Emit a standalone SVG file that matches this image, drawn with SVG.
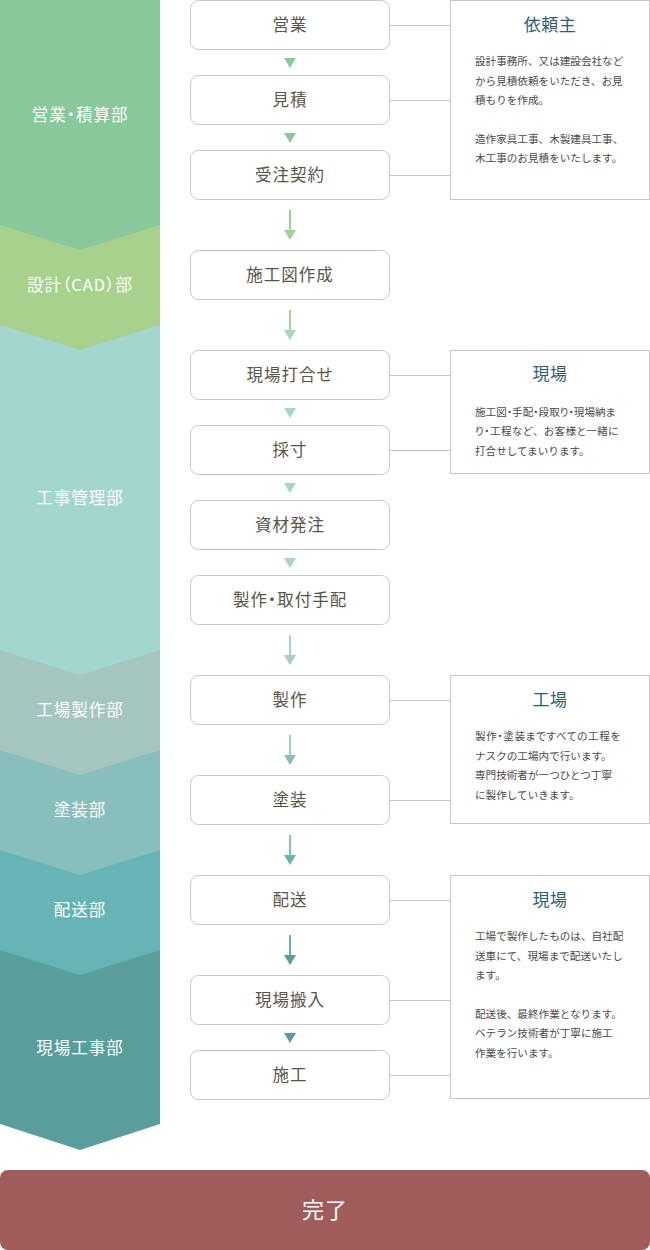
<svg xmlns="http://www.w3.org/2000/svg" width="650" height="1250" viewBox="0 0 650 1250">
<style>
text{font-family:"Noto Sans CJK JP","Noto Sans",sans-serif}
.band{font-size:16.5px;fill:#ffffff;text-anchor:middle;letter-spacing:1px}
.palt{font-feature-settings:"palt"}
.nopalt{font-feature-settings:normal}
.box{fill:#ffffff;stroke:#c8c8c8;stroke-width:1}
.lbl{font-size:16.5px;fill:#5a5448;text-anchor:middle;letter-spacing:1px;font-feature-settings:"palt"}
.info{fill:#ffffff;stroke:#c8c8c8;stroke-width:1}
.title{font-size:17px;fill:#2d5e78;text-anchor:middle;letter-spacing:0.5px}
.body{font-size:10.6px;fill:#4a4a4a}
.conn{stroke:#c8c8c8;stroke-width:1;fill:none}
</style>
<rect width="650" height="1250" fill="#ffffff"/>
<g id="bands">
<g id="band7"><polygon points="0,0 160,0 160,1124 80,1150 0,1124" fill="#5a9e9c"/><text class="band" x="80" y="1054">現場工事部</text></g>
<g id="band6"><polygon points="0,0 160,0 160,950 80,975 0,950" fill="#66b4b6"/><text class="band" x="80" y="916">配送部</text></g>
<g id="band5"><polygon points="0,0 160,0 160,850 80,875 0,850" fill="#88bfbc"/><text class="band" x="80" y="816">塗装部</text></g>
<g id="band4"><polygon points="0,0 160,0 160,750 80,775 0,750" fill="#a4c6bf"/><text class="band" x="80" y="716">工場製作部</text></g>
<g id="band3"><polygon points="0,0 160,0 160,650 80,675 0,650" fill="#a3d6cf"/><text class="band" x="80" y="504">工事管理部</text></g>
<g id="band2"><polygon points="0,0 160,0 160,325 80,350 0,325" fill="#a8d18e"/><text class="band palt" x="80" y="291" letter-spacing="2">設計（CAD）部</text></g>
<g id="band1"><polygon points="0,0 160,0 160,225 80,250 0,225" fill="#88c89a"/><text class="band palt" x="80" y="121">営業・積算部</text></g>
</g>
<g id="connectors">
<line class="conn" x1="390" y1="25.5" x2="450" y2="25.5"/>
<line class="conn" x1="390" y1="100.5" x2="450" y2="100.5"/>
<line class="conn" x1="390" y1="175.5" x2="450" y2="175.5"/>
<line class="conn" x1="390" y1="375.5" x2="450" y2="375.5"/>
<line class="conn" x1="390" y1="450.5" x2="450" y2="450.5"/>
<line class="conn" x1="390" y1="700.5" x2="450" y2="700.5"/>
<line class="conn" x1="390" y1="800.5" x2="450" y2="800.5"/>
<line class="conn" x1="390" y1="900.5" x2="450" y2="900.5"/>
<line class="conn" x1="390" y1="1000.5" x2="450" y2="1000.5"/>
<line class="conn" x1="390" y1="1075.5" x2="450" y2="1075.5"/>
<polygon points="284,58 296,58 290,68" fill="#88c89a"/>
<polygon points="284,133 296,133 290,143" fill="#88c89a"/>
<line x1="290" y1="210" x2="290" y2="231" stroke="#96cf90" stroke-width="2"/>
<polygon points="284,230 296,230 290,240" fill="#a0d18e"/>
<line x1="290" y1="310" x2="290" y2="331" stroke="#a8d18e" stroke-width="2"/>
<polygon points="284,330 296,330 290,340" fill="#a3d6c0"/>
<polygon points="284,408 296,408 290,418" fill="#a3d6cf"/>
<polygon points="284,483 296,483 290,493" fill="#a3d6cf"/>
<polygon points="284,558 296,558 290,568" fill="#a3d6cf"/>
<line x1="290" y1="635" x2="290" y2="656" stroke="#a3d6cf" stroke-width="2"/>
<polygon points="284,655 296,655 290,665" fill="#a3d0c8"/>
<line x1="290" y1="735" x2="290" y2="756" stroke="#a0cbc4" stroke-width="2"/>
<polygon points="284,755 296,755 290,765" fill="#88bfbc"/>
<line x1="290" y1="835" x2="290" y2="856" stroke="#88bfbc" stroke-width="2"/>
<polygon points="284,855 296,855 290,865" fill="#66b4b6"/>
<line x1="290" y1="935" x2="290" y2="956" stroke="#66b4b6" stroke-width="2"/>
<polygon points="284,955 296,955 290,965" fill="#5a9e9c"/>
<polygon points="284,1033 296,1033 290,1043" fill="#5a9e9c"/>
</g>
<g id="n1"><rect class="box" x="190.5" y="0.5" width="199" height="49" rx="8"/><text class="lbl" x="290" y="31">営業</text></g>
<g id="n2"><rect class="box" x="190.5" y="75.5" width="199" height="49" rx="8"/><text class="lbl" x="290" y="106">見積</text></g>
<g id="n3"><rect class="box" x="190.5" y="150.5" width="199" height="49" rx="8"/><text class="lbl" x="290" y="181">受注契約</text></g>
<g id="n4"><rect class="box" x="190.5" y="250.5" width="199" height="49" rx="8"/><text class="lbl" x="290" y="281">施工図作成</text></g>
<g id="n5"><rect class="box" x="190.5" y="350.5" width="199" height="49" rx="8"/><text class="lbl" x="290" y="381">現場打合せ</text></g>
<g id="n6"><rect class="box" x="190.5" y="425.5" width="199" height="49" rx="8"/><text class="lbl" x="290" y="456">採寸</text></g>
<g id="n7"><rect class="box" x="190.5" y="500.5" width="199" height="49" rx="8"/><text class="lbl" x="290" y="531">資材発注</text></g>
<g id="n8"><rect class="box" x="190.5" y="575.5" width="199" height="49" rx="8"/><text class="lbl" x="290" y="606">製作・取付手配</text></g>
<g id="n9"><rect class="box" x="190.5" y="675.5" width="199" height="49" rx="8"/><text class="lbl" x="290" y="706">製作</text></g>
<g id="n10"><rect class="box" x="190.5" y="775.5" width="199" height="49" rx="8"/><text class="lbl" x="290" y="806">塗装</text></g>
<g id="n11"><rect class="box" x="190.5" y="875.5" width="199" height="49" rx="8"/><text class="lbl" x="290" y="906">配送</text></g>
<g id="n12"><rect class="box" x="190.5" y="975.5" width="199" height="49" rx="8"/><text class="lbl" x="290" y="1006">現場搬入</text></g>
<g id="n13"><rect class="box" x="190.5" y="1050.5" width="199" height="49" rx="8"/><text class="lbl" x="290" y="1081">施工</text></g>
<g id="info1"><rect class="info" x="450.5" y="0.5" width="199" height="199"/>
<text class="title" x="550" y="31">依頼主</text>
<text class="body" x="475" y="65">設計事務所、又は建設会社など</text>
<text class="body" x="475" y="84.5">から見積依頼をいただき、お見</text>
<text class="body" x="475" y="104">積もりを作成。</text>
<text class="body" x="475" y="142.5">造作家具工事、木製建具工事、</text>
<text class="body" x="475" y="162">木工事のお見積をいたします。</text>
</g>
<g id="info2"><rect class="info" x="450.5" y="350.5" width="199" height="123"/>
<text class="title" x="550" y="380">現場</text>
<text class="body palt" x="475" y="415.5" letter-spacing="0">施工図・手配・段取り・現場納ま</text>
<text class="body palt" x="475" y="435" letter-spacing="0.4">り・工程など<tspan class="nopalt">、</tspan>お客様と一緒に</text>
<text class="body" x="475" y="454.5">打合せしてまいります。</text>
</g>
<g id="info3"><rect class="info" x="450.5" y="675.5" width="199" height="148"/>
<text class="title" x="550" y="706">工場</text>
<text class="body palt" x="475" y="740" letter-spacing="0.6">製作・塗装まですべての工程を</text>
<text class="body" x="475" y="759.5">ナスクの工場内で行います。</text>
<text class="body" x="475" y="779">専門技術者が一つひとつ丁寧</text>
<text class="body" x="475" y="798.5">に製作していきます。</text>
</g>
<g id="info4"><rect class="info" x="450.5" y="875.5" width="199" height="223"/>
<text class="title" x="550" y="906">現場</text>
<text class="body" x="475" y="940">工場で製作したものは、自社配</text>
<text class="body" x="475" y="959.5">送車にて、現場まで配送いたし</text>
<text class="body" x="475" y="979">ます。</text>
<text class="body" x="475" y="1017.5">配送後、最終作業となります。</text>
<text class="body" x="475" y="1037">ベテラン技術者が丁寧に施工</text>
<text class="body" x="475" y="1056.5">作業を行います。</text>
</g>
<g id="done"><rect x="0" y="1170" width="650" height="80" rx="8" fill="#a05c5a"/><text x="325" y="1218" font-size="22" fill="#ffffff" text-anchor="middle" letter-spacing="1">完了</text></g>
</svg>
